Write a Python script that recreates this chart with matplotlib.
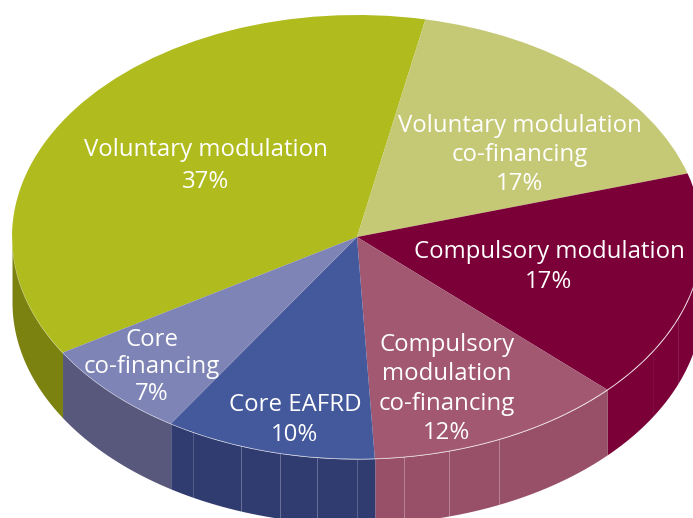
import numpy as np
import matplotlib
matplotlib.use("Agg")
import matplotlib.pyplot as plt

categories = ["Voluntary modulation", "Voluntary modulation\nco-financing", "Compulsory modulation",
              "Compulsory\nmodulation\nco-financing", "Core EAFRD", "Core\nco-financing"]
shares = [37, 17, 17, 12, 10, 7]
slice_sizes = [36.9, 17.2, 16.7, 12.1, 9.9, 7.2]
top_colors = ["#B0BB1E", "#C5C975", "#7A0037", "#A35872", "#44589C", "#7E84B5"]
wall_colors = ["#7C8210", "#9A9D50", "#7A0037", "#975068", "#303B70", "#57587C"]

W, H = 693, 518
cx, cy, rx, ry, depth_px = 357, 237, 345, 222, 65
start = 211.4

label_px = [(206, 166), (520, 155), (549, 267), (447, 389), (295, 420), (152, 367)]
label_spacing = [1.42, 1.29, 1.33, 1.29, 1.29, 1.18]
sep_px = [193, 241, 280, 317, 357, 404, 449, 499, 653, 678]
sep_alpha = [0.18, 0.28, 0.28, 0.28, 0.22, 0.3, 0.3, 0.3, 0.05, 0.12]

fig = plt.figure(figsize=(W / 100, H / 100), dpi=100, facecolor="white")
ax = fig.add_axes([0, 0, 1, 1])

depth = depth_px / ry
fractions = np.array(slice_sizes) / sum(slice_sizes)
edges = start - np.concatenate([[0], np.cumsum(fractions)]) * 360


def to_data(px, py):
    return (px - cx) / rx, (cy - py) / ry


# side wall: the lower half of the ellipse, pushed down
for i, c in enumerate(wall_colors):
    a = np.linspace(edges[i], edges[i + 1], 200)
    rad = np.radians(a)
    s = np.sin(rad)
    keep = s <= 0
    if keep.sum() > 1:
        ax.fill_between(np.cos(rad[keep]), s[keep], s[keep] - depth, color=c, lw=0, zorder=1)

# thin lines between wall panels
for x, al in zip(sep_px, sep_alpha):
    u = (x - cx) / rx
    y0 = -np.sqrt(1 - u * u)
    ax.plot([u, u], [y0, y0 - depth], color="white", alpha=al, lw=0.7, zorder=2)

ax.pie(slice_sizes, colors=top_colors, startangle=start, counterclock=False, radius=1,
       wedgeprops=dict(lw=0, zorder=3))
ax.set_aspect("auto")
ax.set_xlim(-cx / rx, (W - cx) / rx)
ax.set_ylim(-(H - cy) / ry, cy / ry)
ax.axis("off")

# light rim of the top face
a = np.radians(np.linspace(180, 360, 400))
ax.plot(np.cos(a), np.sin(a), color="white", alpha=0.3, lw=0.6, zorder=4)

for name, share, (px, py), sp in zip(categories, shares, label_px, label_spacing):
    x, y = to_data(px, py)
    ax.text(x, y, f"{name}\n{share}%", color="white", ha="center", va="center", ma="center",
            fontsize=17.3, linespacing=sp, zorder=5, family=["Open Sans", "DejaVu Sans"])

fig.savefig("out.png", dpi=100)
